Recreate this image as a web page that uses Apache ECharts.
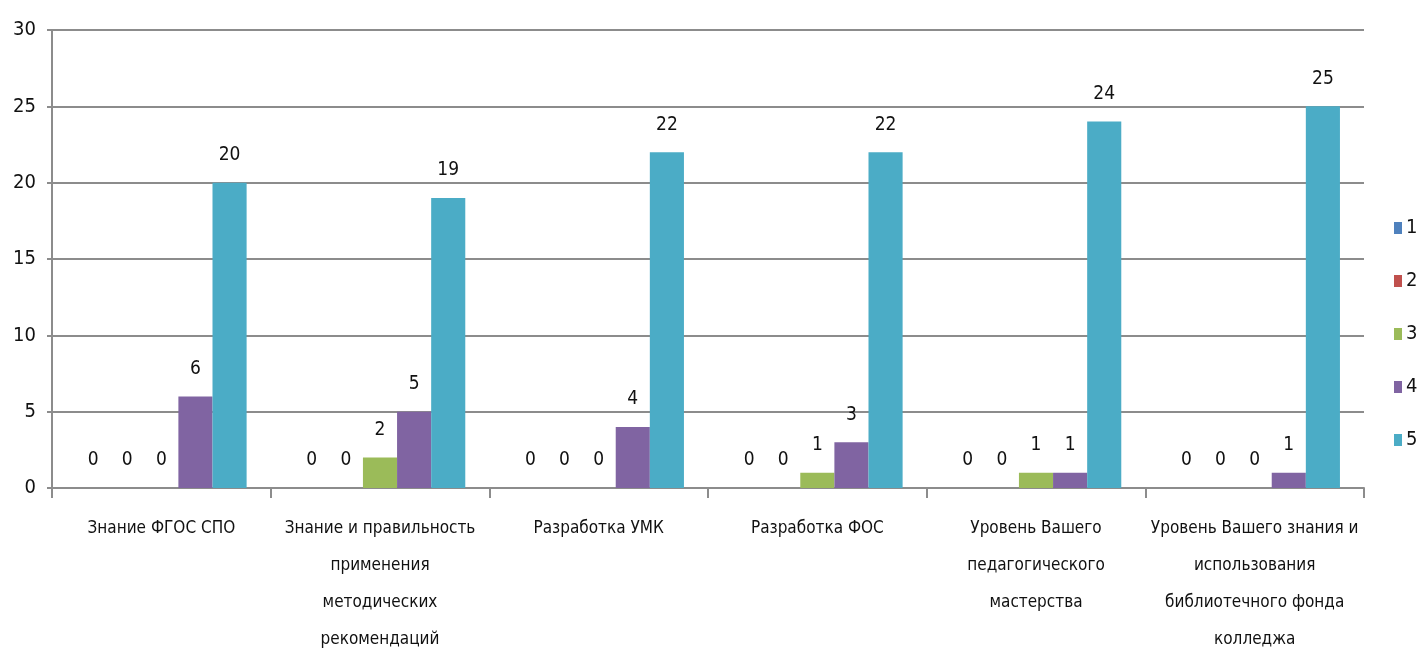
<!DOCTYPE html>
<html>
<head>
<meta charset="utf-8">
<script src="https://cdn.jsdelivr.net/npm/echarts@6/dist/echarts.min.js"></script>
<style>
    html, body { margin: 0; padding: 0; background: #fff; }
    #chart { width: 1423px; height: 648px; }
</style>
</head>
<body>
<div id="chart"></div>
<script>
const categories = [
    'Знание ФГОС СПО',
    'Знание и правильность\nприменения\nметодических\nрекомендаций',
    'Разработка УМК',
    'Разработка ФОС',
    'Уровень Вашего\nпедагогического\nмастерства',
    'Уровень Вашего знания и\nиспользования\nбиблиотечного фонда\nколледжа'
];
const seriesNames = ['1', '2', '3', '4', '5'];
const values1 = [0, 0, 0, 0, 0, 0];
const values2 = [0, 0, 0, 0, 0, 0];
const values3 = [0, 2, 0, 1, 1, 0];
const values4 = [6, 5, 4, 3, 1, 1];
const values5 = [20, 19, 22, 22, 24, 25];
const colors = ['#4f81bd', '#c0504d', '#9bbb59', '#8064a2', '#4bacc6'];

const font = "'Liberation Sans Narrow', 'DejaVu Sans Condensed', sans-serif";
const chart = echarts.init(document.getElementById('chart'));
const allValues = [values1, values2, values3, values4, values5];

chart.setOption({
    animation: false,
    color: colors,
    grid: {
        left: 52,
        right: 59,
        top: 30,
        bottom: 160,
        containLabel: false,
        outerBoundsMode: 'none'
    },
    legend: {
        orient: 'vertical',
        left: 1389,
        top: 213,
        itemGap: 33,
        itemWidth: 8,
        itemHeight: 12,
        icon: 'rect',
        textStyle: {
            fontFamily: font,
            fontSize: 20,
            color: '#111',
            padding: [0, 0, 0, -1]
        },
        data: seriesNames
    },
    xAxis: {
        type: 'category',
        data: categories,
        axisLine: { lineStyle: { color: '#8c8c8c', width: 2 } },
        axisTick: { show: true, length: 10, lineStyle: { color: '#8c8c8c', width: 2 } },
        axisLabel: {
            interval: 0,
            margin: 22,
            fontFamily: font,
            fontSize: 17,
            lineHeight: 37,
            color: '#111'
        }
    },
    yAxis: {
        type: 'value',
        min: 0,
        max: 30,
        interval: 5,
        axisLine: { show: true, lineStyle: { color: '#8c8c8c', width: 2 } },
        axisTick: { show: true, length: 5, lineStyle: { color: '#8c8c8c', width: 2 } },
        splitLine: { lineStyle: { color: '#8c8c8c', width: 2 } },
        axisLabel: {
            margin: 16,
            fontFamily: font,
            fontSize: 20,
            color: '#111'
        }
    },
    series: allValues.map((vals, i) => ({
        name: seriesNames[i],
        type: 'bar',
        data: vals,
        barGap: '0%',
        barCategoryGap: '22%',
        label: {
            show: true,
            position: 'top',
            distance: 18,
            fontFamily: font,
            fontSize: 19,
            color: '#111'
        }
    }))
});
</script>
</body>
</html>
